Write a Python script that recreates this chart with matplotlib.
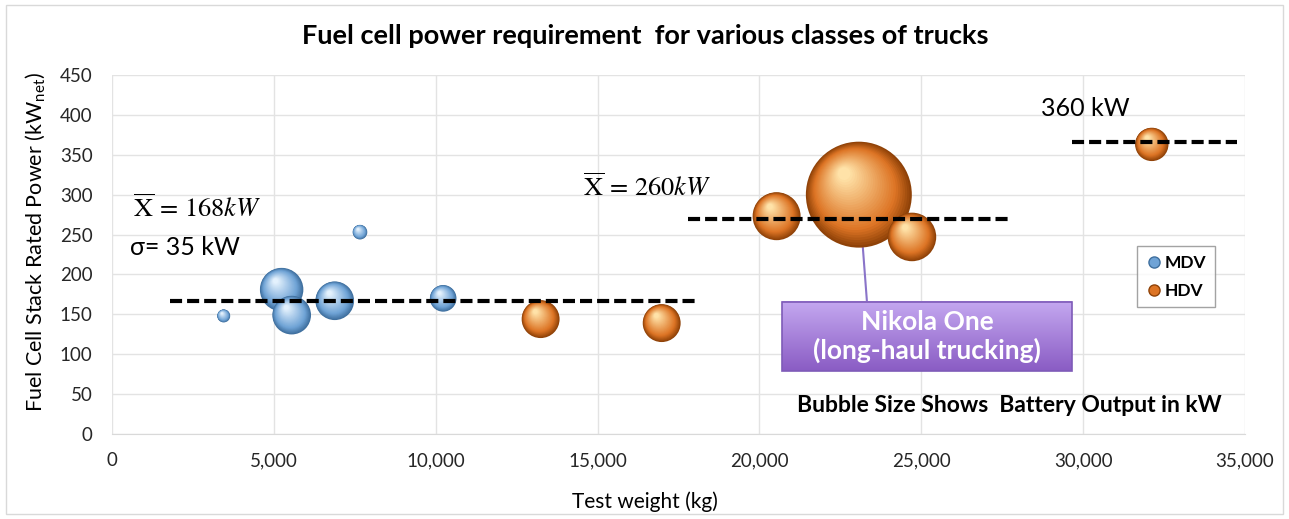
import numpy as np
import matplotlib
matplotlib.use("Agg")
import matplotlib.pyplot as plt
from matplotlib.lines import Line2D
from matplotlib.patches import Rectangle
from matplotlib.colors import to_rgb
from matplotlib.transforms import offset_copy

plt.rcParams['font.family'] = ['Lato', 'DejaVu Sans']
plt.rcParams['mathtext.fontset'] = 'stix'

# medium duty vehicles: test weight (kg), stack power (kW), battery output (kW)
mdv_weight = [3450, 5240, 5550, 6880, 7660, 10230]
mdv_power = [148, 181, 149, 167, 253, 170]
mdv_battery = [15, 168, 133, 133, 19, 63]

# heavy duty vehicles
hdv_weight = [13240, 16980, 20530, 23070, 24710, 32120]
hdv_power = [144, 139, 273, 300, 247, 363]
hdv_battery = [128, 128, 205, 1000, 210, 99]

# mean lines: (x start, x end, level)
mdv_mean = (1790, 18090, 167)
hdv_mean = (17780, 27720, 269)
top_mean = (29660, 34750, 366)

x_ticks = [0, 5000, 10000, 15000, 20000, 25000, 30000, 35000]
y_ticks = [0, 50, 100, 150, 200, 250, 300, 350, 400, 450]

SIZE_SCALE = 5.82  # points^2 per kW of battery output


def mix(c1, c2, t):
    a = np.array(to_rgb(c1))
    b = np.array(to_rgb(c2))
    return tuple(a + (b - a) * t)


def draw_bubble(ax, fig, x, y, s, dark, base, light, z):
    """Fake a shaded sphere with stacked circles drifting to the upper left."""
    d0 = np.sqrt(s)
    n = 28
    for i in range(n):
        t = i / (n - 1)
        f = 1 - 0.88 * t
        d = d0 * f
        shift = d0 / 2 * (1 - f) * 0.45
        tr = offset_copy(ax.transData, fig=fig, x=-shift * 0.7, y=shift, units='points')
        if t < 0.25:
            col = mix(dark, base, t / 0.25)
        else:
            col = mix(base, light, (t - 0.25) / 0.75)
        ax.scatter([x], [y], s=d * d, color=col, edgecolors='none',
                   transform=tr, zorder=z + i * 0.001, clip_on=False)


fig = plt.figure(figsize=(12.89, 5.19), dpi=100)
ax = fig.add_axes([0.0869, 0.1638, 0.879, 0.6917])

# outer chart border
fig.patches.append(Rectangle((0.005, 0.01), 0.99, 0.98, transform=fig.transFigure,
                             fill=False, edgecolor='#d9d9d9', linewidth=1))

ax.set_xlim(0, 35000)
ax.set_ylim(0, 450)
ax.set_xticks(x_ticks)
ax.set_yticks(y_ticks)
ax.set_xticklabels([f"{v:,}" for v in x_ticks])
ax.grid(True, color='#e3e3e3', linewidth=1)
ax.set_axisbelow(True)
for sp in ['top', 'right', 'left']:
    ax.spines[sp].set_visible(False)
ax.spines['bottom'].set_color('#d9d9d9')
ax.tick_params(length=0, labelsize=13.5, labelcolor='#262626')
ax.tick_params(axis='x', pad=13)
ax.tick_params(axis='y', pad=14)

# pointer line from Nikola bubble to the call-out box
ax.plot([hdv_weight[3], hdv_weight[3] + 250], [hdv_power[3], 166], color='#8a74c9',
        linewidth=1.5, zorder=2)

# bubbles, larger first so small ones sit on top
blue = ('#3f6f9e', '#6fa3d6', '#e3f1fd')
orange = ('#8f4208', '#dd7424', '#ffe2a8')
pts = [(x, y, b, blue) for x, y, b in zip(mdv_weight, mdv_power, mdv_battery)]
pts += [(x, y, b, orange) for x, y, b in zip(hdv_weight, hdv_power, hdv_battery)]
pts.sort(key=lambda p: -p[2])
for k, (x, y, b, cols) in enumerate(pts):
    draw_bubble(ax, fig, x, y, b * SIZE_SCALE, *cols, z=3 + k * 0.1)

# mean lines
for x0, x1, lvl in [mdv_mean, hdv_mean, top_mean]:
    ax.plot([x0, x1], [lvl, lvl], color='black', linewidth=3, dashes=(2.9, 1.2),
            solid_capstyle='butt', dash_capstyle='butt', zorder=6)

# annotations
ax.text(650, 283, r"$\overline{\mathrm{X}}\,=\,168kW$", fontsize=19, va='center', zorder=7)
ax.text(550, 234, "σ= 35 kW", fontsize=18, va='center', zorder=7)
ax.text(14540, 310, r"$\overline{\mathrm{X}}\,=\,260kW$", fontsize=19, va='center', zorder=7)
ax.text(28700, 408, "360 kW", fontsize=18, va='center', zorder=7)

# Nikola call-out box with vertical gradient
bx0, bx1, by0, by1 = 20710, 29660, 79, 165.5
grad = np.linspace(0, 1, 64).reshape(-1, 1)
top_c = np.array(to_rgb('#c4a8f0'))
bot_c = np.array(to_rgb('#8a5cc4'))
img = top_c + (bot_c - top_c) * grad[:, :, None] * np.ones((1, 2, 1))
ax.imshow(img, extent=(bx0, bx1, by0, by1), origin='upper', aspect='auto', zorder=8)
ax.add_patch(Rectangle((bx0, by0), bx1 - bx0, by1 - by0, fill=False,
                       edgecolor='#7e5bb8', linewidth=1.2, zorder=9))
ax.text((bx0 + bx1) / 2, (by0 + by1) / 2, "Nikola One\n(long-haul trucking)",
        ha='center', va='center', color='white', fontsize=19, fontweight='bold',
        linespacing=1.2, zorder=10)
ax.set_xlim(0, 35000)
ax.set_ylim(0, 450)

ax.text(27716, 36, "Bubble Size Shows  Battery Output in kW", ha='center', va='center',
        fontsize=16.5, fontweight='bold', zorder=7)

# legend
handles = [
    Line2D([], [], linestyle='none', marker='o', markersize=8, markerfacecolor='#6fa3d6',
           markeredgecolor='#3f6f9e', label='MDV'),
    Line2D([], [], linestyle='none', marker='o', markersize=8, markerfacecolor='#dd7424',
           markeredgecolor='#8f4208', label='HDV'),
]
leg = ax.legend(handles=handles, loc='upper left', bbox_to_anchor=(0.897, 0.548),
                frameon=True, fancybox=False, edgecolor='#8c8c8c', handletextpad=0.1,
                handlelength=1.0, borderpad=0.5, labelspacing=0.7,
                prop={'weight': 'bold', 'size': 12.5})
leg.get_frame().set_linewidth(1)
leg.set_zorder(11)

ax.set_title("Fuel cell power requirement  for various classes of trucks",
             fontsize=19.5, fontweight='bold', pad=22, x=0.4704)
ax.set_xlabel("Test weight (kg)", fontsize=15)
ax.xaxis.set_label_coords(0.4704, -0.16)
ax.set_ylabel(r"Fuel Cell Stack Rated Power (kW$_{\mathregular{net}}$)", fontsize=15.5)
ax.yaxis.set_label_coords(-0.0575, 0.535)

fig.savefig("out.png", dpi=100)
